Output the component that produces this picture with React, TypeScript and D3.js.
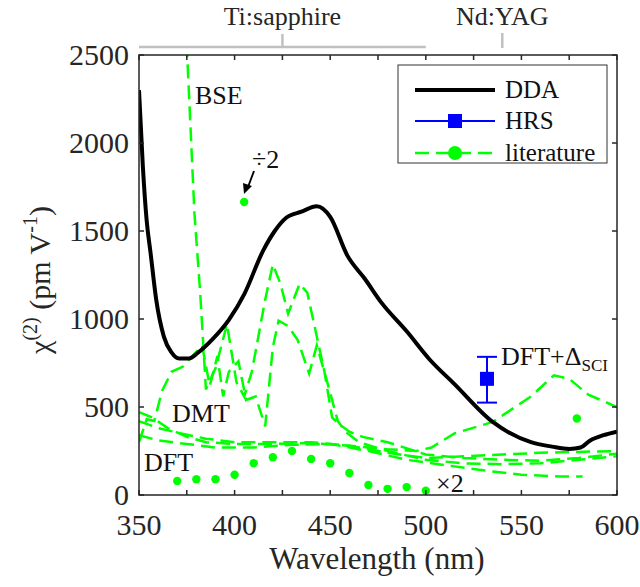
import { useEffect, useRef } from "react";
import * as d3 from "d3";

// DDA curve (nm, pm/V)
const ddaWl = [350, 352, 354, 356, 359, 363, 367, 371, 376, 381, 388, 397, 405, 415, 421, 427, 435, 443, 450, 459, 468, 477, 490, 502, 515, 535, 555, 566, 575, 581, 586, 593, 600];
const ddaVal = [2300, 1870, 1560, 1380, 1110, 900, 810, 775, 775, 810, 880, 995, 1140, 1390, 1500, 1575, 1610, 1640, 1580, 1360, 1230, 1090, 930, 770, 630, 415, 300, 275, 262, 270, 310, 340, 360];

// literature curves, dashed
const bseWl = [371, 375, 379, 382, 385, 390, 396, 401, 405, 409, 416, 420, 424, 428, 434, 438, 442, 447, 451, 455, 460, 467, 480, 500, 520, 540, 560, 580, 600];
const bseVal = [3400, 2550, 1600, 1150, 600, 720, 970, 640, 560, 700, 1110, 1310, 1200, 1030, 1200, 1150, 950, 700, 440, 400, 360, 330, 300, 230, 210, 200, 195, 210, 235];
const dmtWl = [350, 354, 358, 362, 367, 373, 378, 383, 387, 391, 394, 397, 402, 406, 411, 416, 420, 423, 428, 433, 439, 443, 449, 454, 458, 465, 480, 500, 520, 540, 560, 580, 600];
const dmtVal = [300, 430, 420, 590, 700, 730, 790, 850, 620, 790, 560, 700, 760, 540, 560, 390, 840, 990, 960, 880, 690, 850, 620, 420, 360, 300, 250, 200, 180, 175, 180, 200, 220];
const litAWl = [350, 357, 365, 375, 385, 400, 420, 440, 460, 480, 495, 503, 515, 535, 555, 567, 575, 585, 600];
const litAVal = [470, 440, 380, 330, 300, 290, 290, 295, 280, 260, 250, 270, 350, 415, 560, 680, 660, 570, 500];
const litBWl = [350, 360, 375, 390, 410, 430, 450, 470, 490, 510, 530, 550, 570, 582];
const litBVal = [340, 310, 290, 270, 270, 285, 290, 250, 200, 170, 140, 115, 105, 105];
const litCWl = [350, 360, 372, 385, 400, 420, 440, 460, 480, 500, 520, 540, 560, 580, 600];
const litCVal = [420, 380, 350, 320, 300, 300, 300, 280, 240, 210, 220, 230, 240, 245, 250];

// DFT x2 dots
const dotWl = [370, 380, 390, 400, 410, 420, 430, 440, 450, 460, 470, 480, 490, 500];
const dotVal = [80, 90, 90, 115, 180, 215, 250, 205, 180, 125, 57, 35, 45, 25];

// single points
const halfPoint = [405, 1665];
const extraPoint = [579, 435];
const hrs = { wl: 532, val: 660, lo: 525, hi: 785 };

const xTicks = d3.range(350, 601, 25);
const xLabels = [350, 400, 450, 500, 550, 600];
const yTicks = [0, 500, 1000, 1500, 2000, 2500];

const FONT = "'Liberation Serif', 'Times New Roman', 'DejaVu Serif', serif";

const App = () => {
    const svgRef = useRef(null);

    useEffect(() => {
        const svg = d3.select(svgRef.current);
        svg.selectAll("*").remove();

        const left = 139, right = 617, top = 55, bottom = 495;
        const green = "#00ff00";
        const x = d3.scaleLinear().domain([350, 600]).range([left, right]);
        const y = d3.scaleLinear().domain([0, 2500]).range([bottom, top]);

        svg.append("defs").append("clipPath").attr("id", "plot")
            .append("rect").attr("x", left).attr("y", top)
            .attr("width", right - left).attr("height", bottom - top);

        const plot = svg.append("g").attr("clip-path", "url(#plot)");
        const line = d3.line().x((d) => x(d[0])).y((d) => y(d[1]));

        // literature dashed lines
        [[bseWl, bseVal], [dmtWl, dmtVal], [litAWl, litAVal], [litBWl, litBVal], [litCWl, litCVal]].forEach(([wl, val]) => {
            plot.append("path")
                .attr("d", line(wl.map((w, i) => [w, val[i]])))
                .attr("fill", "none")
                .attr("stroke", green)
                .attr("stroke-width", 2.5)
                .attr("stroke-dasharray", "14,7");
        });

        // dots
        plot.selectAll(".dot")
            .data(dotWl.map((w, i) => [w, dotVal[i]]).concat([halfPoint, extraPoint]))
            .enter().append("circle")
            .attr("cx", (d) => x(d[0]))
            .attr("cy", (d) => y(d[1]))
            .attr("r", 4.2)
            .attr("fill", green);

        // DDA
        plot.append("path")
            .attr("d", d3.line().curve(d3.curveMonotoneX).x((d) => x(d[0])).y((d) => y(d[1]))(ddaWl.map((w, i) => [w, ddaVal[i]])))
            .attr("fill", "none")
            .attr("stroke", "black")
            .attr("stroke-width", 4);

        // HRS
        const hx = x(hrs.wl);
        const hrsG = svg.append("g").attr("stroke", "#0000ff").attr("stroke-width", 2);
        hrsG.append("line").attr("x1", hx).attr("x2", hx).attr("y1", y(hrs.lo)).attr("y2", y(hrs.hi));
        hrsG.append("line").attr("x1", hx - 10).attr("x2", hx + 10).attr("y1", y(hrs.lo)).attr("y2", y(hrs.lo));
        hrsG.append("line").attr("x1", hx - 10).attr("x2", hx + 10).attr("y1", y(hrs.hi)).attr("y2", y(hrs.hi));
        svg.append("rect").attr("x", hx - 7).attr("y", y(hrs.val) - 7).attr("width", 14).attr("height", 14).attr("fill", "#0000ff");

        // frame and ticks
        const axisColor = "#262626";
        svg.append("rect").attr("x", left).attr("y", top).attr("width", right - left).attr("height", bottom - top)
            .attr("fill", "none").attr("stroke", axisColor).attr("stroke-width", 1.5);
        const tk = svg.append("g").attr("stroke", axisColor).attr("stroke-width", 1.5);
        xTicks.forEach((t) => {
            tk.append("line").attr("x1", x(t)).attr("x2", x(t)).attr("y1", bottom).attr("y2", bottom - 5);
            tk.append("line").attr("x1", x(t)).attr("x2", x(t)).attr("y1", top).attr("y2", top + 5);
        });
        yTicks.forEach((t) => {
            tk.append("line").attr("x1", left).attr("x2", left + 5).attr("y1", y(t)).attr("y2", y(t));
            tk.append("line").attr("x1", right).attr("x2", right - 5).attr("y1", y(t)).attr("y2", y(t));
        });

        const txt = svg.append("g").style("font-family", FONT).attr("fill", "#262626");
        xLabels.forEach((t) => {
            txt.append("text").attr("x", x(t)).attr("y", 535).attr("text-anchor", "middle")
                .style("font-size", "30px").text(t);
        });
        yTicks.forEach((t) => {
            txt.append("text").attr("x", 129).attr("y", y(t) + 10).attr("text-anchor", "end")
                .style("font-size", "30px").text(t);
        });
        txt.append("text").attr("x", (left + right) / 2 - 1).attr("y", 569).attr("text-anchor", "middle")
            .style("font-size", "31px").text("Wavelength (nm)");

        const yl = txt.append("text").attr("transform", "translate(50,280) rotate(-90)")
            .attr("text-anchor", "middle").style("font-size", "30px");
        yl.append("tspan").text("χ");
        yl.append("tspan").attr("dy", -13).style("font-size", "20px").text("(2)");
        yl.append("tspan").attr("dy", 13).text(" (pm V");
        yl.append("tspan").attr("dy", -13).style("font-size", "20px").text("-1");
        yl.append("tspan").attr("dy", 13).text(")");

        // top annotations
        const gray = "#c0c0c0";
        svg.append("line").attr("x1", x(350)).attr("x2", x(500)).attr("y1", 47).attr("y2", 47)
            .attr("stroke", gray).attr("stroke-width", 2.5);
        svg.append("line").attr("x1", x(425)).attr("x2", x(425)).attr("y1", 34).attr("y2", 47)
            .attr("stroke", gray).attr("stroke-width", 2.5);
        svg.append("line").attr("x1", x(540)).attr("x2", x(540)).attr("y1", 33).attr("y2", 48)
            .attr("stroke", gray).attr("stroke-width", 2.5);
        txt.append("text").attr("x", x(425)).attr("y", 25).attr("text-anchor", "middle")
            .style("font-size", "26px").text("Ti:sapphire");
        txt.append("text").attr("x", x(540)).attr("y", 25).attr("text-anchor", "middle")
            .style("font-size", "26px").text("Nd:YAG");

        // in-plot labels
        const lab = svg.append("g").style("font-family", FONT).style("font-size", "26px").attr("fill", "#111");
        lab.append("text").attr("x", 195).attr("y", 104).text("BSE");
        lab.append("text").attr("x", 172).attr("y", 422).text("DMT");
        lab.append("text").attr("x", 144).attr("y", 471).text("DFT");
        lab.append("text").attr("x", 436).attr("y", 492).text("×2");
        lab.append("text").attr("x", 252).attr("y", 168).text("÷2");
        const dl = lab.append("text").attr("x", 501).attr("y", 365);
        dl.append("tspan").text("DFT+Δ");
        dl.append("tspan").attr("dy", 6).style("font-size", "17px").text("SCI");

        // arrow to ÷2 point
        svg.append("line").attr("x1", 254).attr("y1", 171).attr("x2", 248).attr("y2", 187)
            .attr("stroke", "black").attr("stroke-width", 2);
        svg.append("path").attr("d", "M244,194 L243,183 L252,186 Z").attr("fill", "black");

        // legend
        const lg = svg.append("g");
        lg.append("rect").attr("x", 398).attr("y", 65).attr("width", 209).attr("height", 98)
            .attr("fill", "white").attr("stroke", "#333").attr("stroke-width", 1);
        lg.append("line").attr("x1", 415).attr("x2", 495).attr("y1", 90).attr("y2", 90)
            .attr("stroke", "black").attr("stroke-width", 4);
        lg.append("line").attr("x1", 415).attr("x2", 495).attr("y1", 121).attr("y2", 121)
            .attr("stroke", "#0000ff").attr("stroke-width", 2);
        lg.append("rect").attr("x", 448).attr("y", 114).attr("width", 14).attr("height", 14).attr("fill", "#0000ff");
        lg.append("line").attr("x1", 415).attr("x2", 495).attr("y1", 153).attr("y2", 153)
            .attr("stroke", green).attr("stroke-width", 2.5).attr("stroke-dasharray", "14,7");
        lg.append("circle").attr("cx", 455).attr("cy", 153).attr("r", 7).attr("fill", green);
        const lt = lg.append("g").style("font-family", FONT).style("font-size", "25px").attr("fill", "#111");
        lt.append("text").attr("x", 505).attr("y", 98).text("DDA");
        lt.append("text").attr("x", 505).attr("y", 129).text("HRS");
        lt.append("text").attr("x", 505).attr("y", 161).text("literature");
    }, []);

    return (
        <svg ref={svgRef} width={640} height={587}
            style={{ position: "absolute", left: 0, top: 0, background: "white", fontFamily: FONT }}></svg>
    );
};

export default App;
